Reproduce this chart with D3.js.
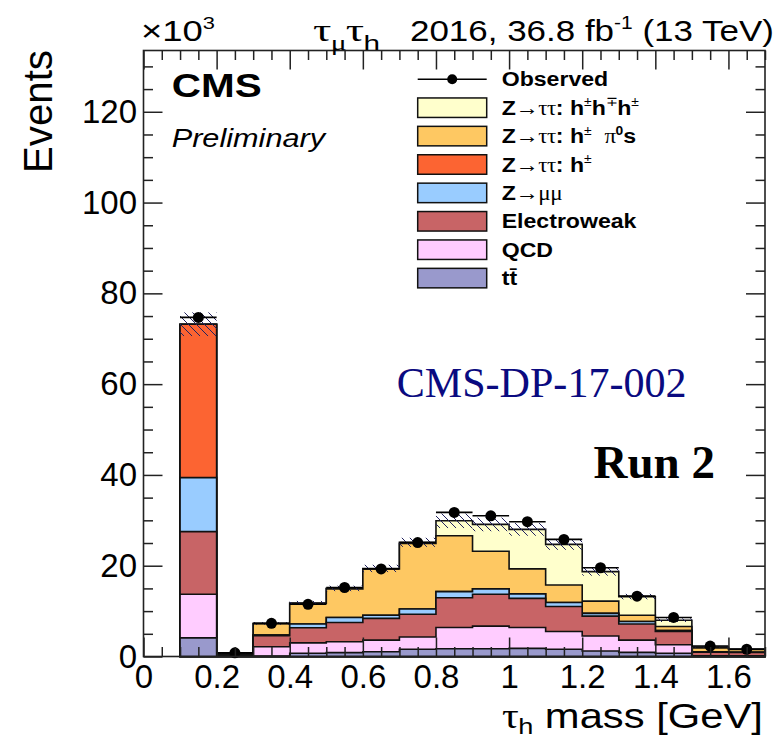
<!DOCTYPE html>
<html>
<head>
<meta charset="utf-8">
<script src="https://cdn.jsdelivr.net/npm/d3@7"></script>
<style>
  html, body { margin: 0; padding: 0; background: #fff; }
  svg { display: block; }
</style>
</head>
<body>
<svg id="chart" width="779" height="740"></svg>
<script>
// Reconstructed tau_h mass in the mu-tau_h channel, stacked by process.
// All yields are in units of 10^3 events, one entry per 0.1 GeV bin.
const binEdges = [0.1, 0.2, 0.3, 0.4, 0.5, 0.6, 0.7, 0.8, 0.9, 1.0, 1.1, 1.2, 1.3, 1.4, 1.5, 1.6, 1.7];

const ttbar          = [4.1, 0.05, 0.1, 0.7, 0.85, 1.05, 1.6, 1.7, 1.7, 1.8, 1.6, 1.2, 0.9, 0.7, 0.05, 0.05];
const qcd            = [9.6, 0.15, 2.05, 2.3, 2.4, 2.55, 2.7, 4.7, 5.0, 4.6, 3.9, 3.3, 2.7, 1.9, 0.1, 0.1];
const electroweak    = [13.8, 0.25, 2.45, 3.35, 4.25, 4.8, 5.0, 6.55, 7.0, 6.4, 5.5, 4.4, 3.55, 2.9, 0.8, 0.75];
const zmumu          = [11.9, 0.05, 0.1, 0.8, 1.1, 0.7, 1.15, 1.35, 1.2, 1.0, 0.9, 0.6, 0.55, 0.2, 0.1, 0.05];
const zttOneProng    = [33.8, 0, 0, 0, 0, 0, 0, 0, 0, 0, 0, 0, 0, 0, 0, 0];
const zttOneProngPi0 = [0, 0.1, 2.5, 4.55, 6.3, 10.2, 14.45, 12.3, 8.3, 5.5, 3.85, 2.7, 1.4, 0.9, 0.85, 0.6];
const zttThreeProng  = [0, 0, 0.1, 0.1, 0.1, 0.1, 0.25, 3.3, 5.9, 8.7, 8.95, 6.5, 4.1, 1.4, 0.2, 0.1];

const observed       = [74.7, 0.8, 7.3, 11.5, 15.2, 19.3, 25.1, 31.75, 31.0, 29.7, 25.8, 19.55, 13.3, 8.6, 2.3, 1.6];
const bkgUncertainty = [2.6, 0.05, 0.3, 0.45, 0.6, 0.8, 1.0, 1.6, 1.5, 1.4, 1.2, 0.9, 0.6, 0.4, 0.1, 0.08];

const xTickValues = [0, 0.2, 0.4, 0.6, 0.8, 1.0, 1.2, 1.4, 1.6];
const yTickValues = [0, 20, 40, 60, 80, 100, 120];

// Stack order, bottom to top, with legend labels.
// Label parts: [text, style]; style = font code + optional ^ (superscript) or _ (subscript).
// Font codes: n normal sans, b bold sans, i italic sans, g symbol (serif), s serif, S bold serif.
const series = [
  { key: 'ttbar', values: ttbar,          color: '#9999CC', label: [['tt\u0304', 'b']] },
  { key: 'qcd',   values: qcd,            color: '#FFCCFF', label: [['QCD', 'b']] },
  { key: 'ew',    values: electroweak,    color: '#C86466', label: [['Electroweak', 'b']] },
  { key: 'zmm',   values: zmumu,          color: '#99CCFF', label: [['Z', 'b'], ['\u2192\u03BC\u03BC', 'g']] },
  { key: 'ztt1',  values: zttOneProng,    color: '#FC6432', label: [['Z', 'b'], ['\u2192\u03C4\u03C4', 'g'], [': h', 'b'], ['\u00B1', 'n^']] },
  { key: 'ztt1p', values: zttOneProngPi0, color: '#FEC862', label: [['Z', 'b'], ['\u2192\u03C4\u03C4', 'g'], [': h', 'b'], ['\u00B1', 'n^'], ['\u00A0\u00A0', 'b'], ['\u03C0', 'g'], ['0', 'b^'], ['s', 'b']] },
  { key: 'ztt3',  values: zttThreeProng,  color: '#FFFFCC', label: [['Z', 'b'], ['\u2192\u03C4\u03C4', 'g'], [': h', 'b'], ['\u00B1', 'n^'], ['h', 'b'], ['\u2213', 'n^'], ['h', 'b'], ['\u00B1', 'n^']] }
];

const plot = { left: 143.5, right: 765, top: 50.5, bottom: 656.5 };
const x = d3.scaleLinear().domain([0, 1.7]).range([plot.left, plot.right]);
const y = d3.scaleLinear().domain([0, 133.5]).range([plot.bottom, plot.top]);

const svg = d3.select('#chart');
const SANS = '"Liberation Sans", Arial, Helvetica, sans-serif';
const SERIF = '"Liberation Serif", "Times New Roman", serif';

// Diagonal hatch used for the background uncertainty band
svg.append('defs').append('pattern')
  .attr('id', 'hatch').attr('patternUnits', 'userSpaceOnUse')
  .attr('width', 8).attr('height', 8)
  .append('path')
  .attr('d', 'M0,0 L8,8 M-1,7 L1,9 M7,-1 L9,1')
  .attr('stroke', '#23235e').attr('stroke-width', 1);

// ---- stacked histograms ----
const nBins = observed.length;
const rows = d3.range(nBins).map(i => {
  const r = {};
  series.forEach(s => { r[s.key] = s.values[i]; });
  return r;
});
const stacked = d3.stack().keys(series.map(s => s.key))(rows);
const colorOf = Object.fromEntries(series.map(s => [s.key, s.color]));

const stepArea = d3.area()
  .x(d => x(d.edge))
  .y0(y(0))
  .y1(d => y(d.v))
  .curve(d3.curveStepAfter);

const histLayer = svg.append('g');
// Cumulative histograms are drawn from the top of the stack downward,
// each filled from zero, so every layer keeps its own step outline.
stacked.slice().reverse().forEach(layer => {
  const pts = layer.map((d, i) => ({ edge: binEdges[i], v: d[1] }));
  pts.push({ edge: binEdges[nBins], v: layer[nBins - 1][1] });
  histLayer.append('path')
    .attr('d', stepArea(pts))
    .attr('fill', colorOf[layer.key])
    .attr('stroke', '#111')
    .attr('stroke-width', 1.6)
    .attr('stroke-linejoin', 'miter');
});

// ---- uncertainty band on the total ----
const totals = stacked[stacked.length - 1].map(d => d[1]);
svg.append('g').selectAll('rect')
  .data(d3.range(nBins))
  .join('rect')
  .attr('x', i => x(binEdges[i]))
  .attr('width', i => x(binEdges[i + 1]) - x(binEdges[i]))
  .attr('y', i => y(totals[i] + bkgUncertainty[i]))
  .attr('height', i => y(totals[i] - bkgUncertainty[i]) - y(totals[i] + bkgUncertainty[i]))
  .attr('fill', 'url(#hatch)');

// ---- observed data ----
const obsG = svg.append('g');
obsG.selectAll('line')
  .data(d3.range(nBins))
  .join('line')
  .attr('x1', i => x(binEdges[i]))
  .attr('x2', i => x(binEdges[i + 1]))
  .attr('y1', i => y(observed[i]))
  .attr('y2', i => y(observed[i]))
  .attr('stroke', '#000').attr('stroke-width', 1.6);
obsG.selectAll('circle')
  .data(d3.range(nBins))
  .join('circle')
  .attr('cx', i => x((binEdges[i] + binEdges[i + 1]) / 2))
  .attr('cy', i => y(observed[i]))
  .attr('r', 5.5)
  .attr('fill', '#000');

// ---- axes (ticks on all four sides, drawn over the histograms) ----
const fmt = d => String(+d.toFixed(1));
const xMinor = d3.range(0, 1.7001, 0.05).filter(v => Math.abs(v / 0.2 - Math.round(v / 0.2)) > 1e-6);
const yMinor = d3.range(0, 133.5, 5).filter(v => v % 20 !== 0);

function styleAxis(g, size) {
  g.select('.domain').remove();
  g.attr('font-family', SANS).attr('font-size', size);
  g.selectAll('line').attr('stroke', '#222').attr('stroke-width', 1.5);
  g.selectAll('text').attr('fill', '#000');
}

svg.append('g').attr('transform', `translate(0,${plot.bottom})`)
  .call(d3.axisBottom(x).tickValues(xTickValues).tickFormat(fmt).tickSize(-19).tickSizeOuter(0).tickPadding(8.5))
  .call(g => styleAxis(g, 33));
svg.append('g').attr('transform', `translate(0,${plot.bottom})`)
  .call(d3.axisBottom(x).tickValues(xMinor).tickFormat('').tickSize(-9.5).tickSizeOuter(0))
  .call(g => styleAxis(g, 10));
svg.append('g').attr('transform', `translate(0,${plot.top})`)
  .call(d3.axisTop(x).tickValues(xTickValues).tickFormat('').tickSize(-19).tickSizeOuter(0))
  .call(g => styleAxis(g, 10));
svg.append('g').attr('transform', `translate(0,${plot.top})`)
  .call(d3.axisTop(x).tickValues(xMinor).tickFormat('').tickSize(-9.5).tickSizeOuter(0))
  .call(g => styleAxis(g, 10));

svg.append('g').attr('transform', `translate(${plot.left},0)`)
  .call(d3.axisLeft(y).tickValues(yTickValues).tickFormat(d3.format('d')).tickSize(-19).tickSizeOuter(0).tickPadding(6.5))
  .call(g => styleAxis(g, 33));
svg.append('g').attr('transform', `translate(${plot.left},0)`)
  .call(d3.axisLeft(y).tickValues(yMinor).tickFormat('').tickSize(-9.5).tickSizeOuter(0))
  .call(g => styleAxis(g, 10));
svg.append('g').attr('transform', `translate(${plot.right},0)`)
  .call(d3.axisRight(y).tickValues(yTickValues).tickFormat('').tickSize(-19).tickSizeOuter(0))
  .call(g => styleAxis(g, 10));
svg.append('g').attr('transform', `translate(${plot.right},0)`)
  .call(d3.axisRight(y).tickValues(yMinor).tickFormat('').tickSize(-9.5).tickSizeOuter(0))
  .call(g => styleAxis(g, 10));

// frame
svg.append('rect')
  .attr('x', plot.left).attr('y', plot.top)
  .attr('width', plot.right - plot.left).attr('height', plot.bottom - plot.top)
  .attr('fill', 'none').attr('stroke', '#222').attr('stroke-width', 1.6);

// ---- text helpers ----
function richText(parent, parts, size, fill, subShift) {
  const t = parent.append('text').attr('font-size', size).attr('fill', fill || '#000').attr('x', 0).attr('y', 0);
  let shift = 0;
  parts.forEach(([s, code]) => {
    const font = code[0], pos = code[1];
    const ts = t.append('tspan').text(s);
    let target = 0;
    if (pos === '^') { target = -0.4 * size; ts.attr('font-size', size * 0.6); }
    if (pos === '_') { target = (subShift || 0.28) * size; ts.attr('font-size', size * 0.65); }
    ts.attr('dy', target - shift);
    shift = target;
    if (font === 'g' || font === 's') {
      ts.attr('font-family', SERIF).attr('font-weight', 'normal');
      if (font === 'g') ts.attr('letter-spacing', -0.5);
    } else if (font === 'S') ts.attr('font-family', SERIF).attr('font-weight', 'bold');
    else {
      ts.attr('font-family', SANS)
        .attr('font-weight', font === 'b' ? 'bold' : 'normal')
        .attr('font-style', font === 'i' ? 'italic' : 'normal');
    }
  });
  return t;
}

// Places a text block with its left (or right) end at (px, py);
// the horizontal scale is set either from a target width or a fixed factor.
function placeText(parts, size, px, py, opts = {}) {
  const g = svg.append('g')
    .attr('transform', `translate(${px},${py})` + (opts.rotate ? ` rotate(${opts.rotate})` : ''));
  const t = richText(g, parts, size, opts.fill, opts.subShift);
  const w = t.node().getBBox().width;
  const sx = opts.width ? opts.width / w : (opts.sx || 1);
  const dx = opts.anchor === 'end' ? -w * sx : 0;
  t.attr('transform', `translate(${dx},0) scale(${sx},1)`);
  return g;
}

// header
placeText([['\u00D710', 'n'], ['3', 'n^']], 29, 141, 41, { width: 74 });
placeText([['\u03C4', 'g'], ['\u03BC', 'g_'], ['\u03C4', 'g'], ['h', 'n_']], 31, 313, 41, { width: 67 });
placeText([['2016, 36.8 fb', 'n'], ['-1', 'n^'], [' (13 TeV)', 'n']], 30, 410, 41, { width: 364 });

// axis titles
placeText([['Events', 'n']], 41, 52, 50, { rotate: -90, anchor: 'end', width: 123 });
placeText([['\u03C4', 'g'], ['h', 'n_'], [' mass [GeV]', 'n']], 35, 763, 728, { anchor: 'end', width: 261, subShift: 0.18 });

// labels inside the frame
placeText([['CMS', 'b']], 32.5, 171.7, 96.7, { width: 90 });
placeText([['Preliminary', 'i']], 25.6, 171.7, 146.7, { width: 156 });
placeText([['CMS-DP-17-002', 's']], 43, 396.7, 396.7, { width: 290, fill: '#0a0a80' });
placeText([['Run 2', 'S']], 46, 593.5, 478.3, { width: 121.5 });

// ---- legend ----
const legend = { x: 417.7, w: 69, h: 19.5, textX: 501.7, y0: 79.3, step: 28.4 };
const legendRows = [{ marker: true, label: [['Observed', 'b']] }]
  .concat(series.slice().reverse().map(s => ({ color: s.color, label: s.label })));

legendRows.forEach((row, i) => {
  const cy = legend.y0 + i * legend.step;
  if (row.marker) {
    svg.append('line')
      .attr('x1', legend.x).attr('x2', legend.x + legend.w)
      .attr('y1', cy).attr('y2', cy)
      .attr('stroke', '#000').attr('stroke-width', 1.6);
    svg.append('circle')
      .attr('cx', legend.x + legend.w / 2).attr('cy', cy).attr('r', 5)
      .attr('fill', '#000');
  } else {
    svg.append('rect')
      .attr('x', legend.x).attr('y', cy - legend.h / 2)
      .attr('width', legend.w).attr('height', legend.h)
      .attr('fill', row.color).attr('stroke', '#111').attr('stroke-width', 1.5);
  }
  placeText(row.label, 21, legend.textX, cy + 7, { sx: 1.1 });
});
</script>
</body>
</html>
